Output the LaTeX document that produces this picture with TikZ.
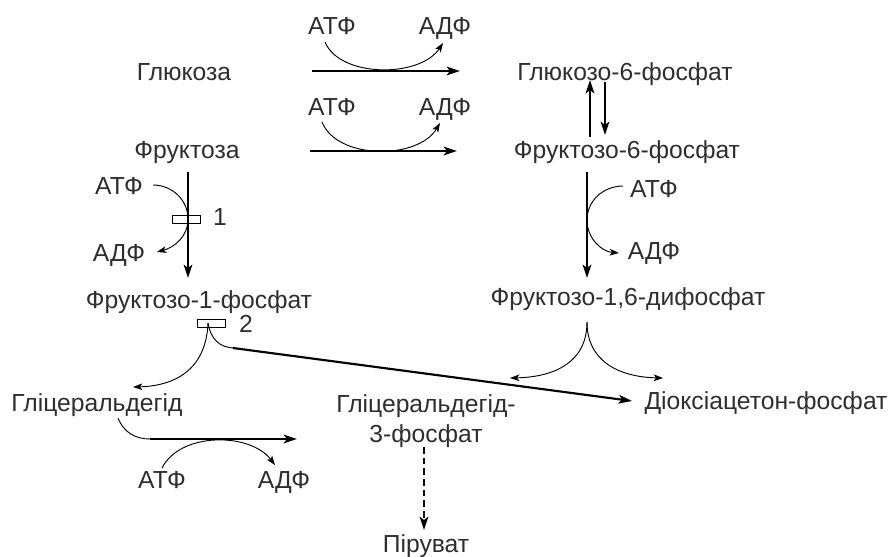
\documentclass[tikz,border=0pt]{standalone}
\usepackage{fontspec}
\setmainfont{Liberation Sans}
\usetikzlibrary{arrows.meta}
\begin{document}
\begin{tikzpicture}[x=0.75pt,y=-0.75pt,
  lbl/.style={inner sep=0pt,anchor=base,font=\fontsize{18.5}{22.5}\selectfont,text=black!82},
  thick arrow/.style={line width=1.6pt,-{Stealth[length=10pt,width=6.5pt,inset=2.5pt]}},
  thin arrow/.style={line width=0.7pt,-{Stealth[length=7pt,width=5pt,inset=1.8pt]}},
  thin line/.style={line width=0.7pt},
  enzbox/.style={draw,line width=0.7pt,minimum width=21pt,minimum height=6pt,inner sep=0pt}]
\useasboundingbox (0,0) rectangle (893,557);
% substrates
\node[lbl] (glu) at (184,80.5) {Глюкоза};
\node[lbl] (fru) at (187,158.5) {Фруктоза};
\node[lbl] (g6p) at (625,80.5) {Глюкозо-6-фосфат};
\node[lbl] (f6p) at (627,158.5) {Фруктозо-6-фосфат};
\node[lbl] (f16) at (628,305.5) {Фруктозо-1,6-дифосфат};
\node[lbl] (f1p) at (199,308) {Фруктозо-1-фосфат};
\node[lbl] (gal) at (97,411.5) {Гліцеральдегід};
\node[lbl,align=center] (gap) at (426,442.5) {Гліцеральдегід-\\3-фосфат};
\node[lbl] (dap) at (766,409.5) {Діоксіацетон-фосфат};
\node[lbl] (pyr) at (426,552) {Піруват};
% cofactors
\node[lbl] (a1) at (332,34) {АТФ};
\node[lbl] (d1) at (445,34) {АДФ};
\node[lbl] (a2) at (332,115.5) {АТФ};
\node[lbl] (d2) at (445,115.5) {АДФ};
\node[lbl] (a3) at (119,194) {АТФ};
\node[lbl] (d3) at (119,261.5) {АДФ};
\node[lbl] (a4) at (654,197.5) {АТФ};
\node[lbl] (d4) at (654,259.5) {АДФ};
\node[lbl] (a5) at (162,488) {АТФ};
\node[lbl] (d5) at (284,488) {АДФ};
\node[lbl] (n1) at (220,225.5) {1};
\node[lbl] (n2) at (246,332.5) {2};
% coordinates
\coordinate (h1s) at (312,71); \coordinate (h1e) at (460,71);
\coordinate (h2s) at (310,151); \coordinate (h2e) at (457,151);
\coordinate (c1s) at (325,42); \coordinate (c1e) at (443,43);
\coordinate (c2s) at (322,122); \coordinate (c2e) at (440,123);
\coordinate (upS) at (590,137); \coordinate (upE) at (590,80);
\coordinate (dnS) at (605,82); \coordinate (dnE) at (605,135);
\coordinate (v1s) at (188,172); \coordinate (v1e) at (188,278);
\coordinate (v2s) at (587,172); \coordinate (v2e) at (587,278);
\coordinate (c3s) at (153,185); \coordinate (c3m) at (188,219); \coordinate (c3e) at (157,252);
\coordinate (c4s) at (623,186); \coordinate (c4m) at (587,220); \coordinate (c4e) at (619,253);
\coordinate (sp2) at (208,323); \coordinate (k2) at (233,348); \coordinate (l2) at (133,387);
\coordinate (dapE) at (632,401);
\coordinate (sp16) at (587,322); \coordinate (l16) at (510,378); \coordinate (r16) at (663,378);
\coordinate (g1) at (118,418); \coordinate (g2) at (150,439); \coordinate (g3) at (297,439);
\coordinate (c5s) at (162,468); \coordinate (c5e) at (275,465);
\coordinate (pS) at (424,447); \coordinate (pE) at (424,530);
% top reactions
\draw[thick arrow] (h1s) -- (h1e);
\draw[thin arrow] (c1s) .. controls (340,78) and (420,78) .. (c1e);
\draw[thick arrow] (h2s) -- (h2e);
\draw[thin arrow] (c2s) .. controls (337,160) and (418,160) .. (c2e);
% isomerase
\draw[thick arrow] (upS) -- (upE);
\draw[thick arrow] (dnS) -- (dnE);
% right column
\draw[thick arrow] (v2s) -- (v2e);
\draw[thin arrow] (c4s) to[out=180,in=90] (c4m) to[out=-90,in=175] (c4e);
\draw[thin arrow] (sp16) .. controls (587,362) and (555,377) .. (l16);
\draw[thin arrow] (sp16) .. controls (587,362) and (620,377) .. (r16);
% left column
\draw[thick arrow] (v1s) -- (v1e);
\draw[thin arrow] (c3s) to[out=0,in=90] (c3m) to[out=-90,in=15] (c3e);
\node[enzbox] (e1) at (186,219) {};
\draw[thin arrow] (sp2) .. controls (206,372) and (172,386) .. (l2);
\draw[thin line] (sp2) .. controls (211,340) and (220,347) .. (k2);
\draw[thick arrow] (k2) -- (dapE);
\node[enzbox] (e2) at (211,323) {};
% glyceraldehyde
\draw[thin line] (g1) .. controls (124,433) and (136,439) .. (g2);
\draw[thick arrow] (g2) -- (g3);
\draw[thin arrow] (c5s) .. controls (180,432) and (250,432) .. (c5e);
% to pyruvate
\draw[line width=2.2pt,dash pattern=on 5pt off 3pt,-{Stealth[length=10pt,width=6.5pt,inset=2.5pt]}] (pS) -- (pE);
\end{tikzpicture}
\end{document}
